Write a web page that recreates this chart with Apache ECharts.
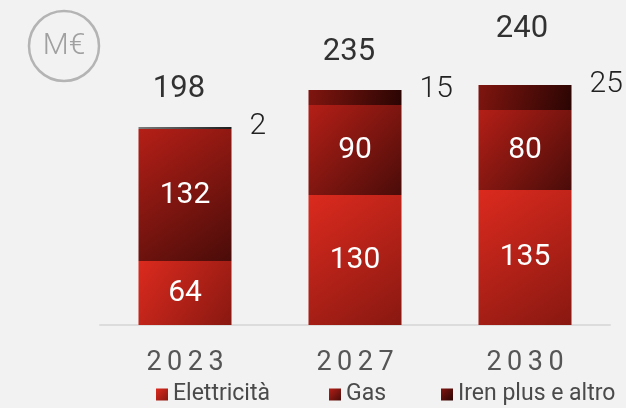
<!DOCTYPE html>
<html>
<head>
<meta charset="utf-8">
<script src="https://cdn.jsdelivr.net/npm/echarts@6/dist/echarts.min.js"></script>
<style>
  html, body { margin: 0; padding: 0; background: #f2f2f2; }
  #chart { width: 626px; height: 408px; }
</style>
</head>
<body>
<div id="chart"></div>
<script>
// dati (M€)
const years = ['2023', '2027', '2030']
const elettricita = [64, 130, 135]
const gas = [132, 90, 80]
const irenPlus = [2, 15, 25]
const totals = [198, 235, 240]

const grad = (c1, c2) => new echarts.graphic.LinearGradient(0, 0, 1, 1, [
    { offset: 0, color: c1 },
    { offset: 1, color: c2 }
])

const chart = echarts.init(document.getElementById('chart'))

const legendBase = {
    bottom: -3,
    icon: 'rect',
    itemWidth: 12,
    itemHeight: 12,
    itemGap: 9,
    textStyle: { fontFamily: 'Roboto', fontSize: 23, color: '#4a4a4a' }
}

chart.setOption({
    backgroundColor: '#f2f2f2',
    animation: false,
    textStyle: { fontFamily: 'Roboto' },
    grid: { left: 100, right: 16, top: 25, bottom: 83 },
    xAxis: {
        type: 'category',
        data: years,
        axisLine: { lineStyle: { color: '#dcdcdc', width: 2 } },
        axisTick: { show: false },
        axisLabel: {
            fontSize: 27,
            color: '#555',
            margin: 25,
            // spaziatura tra le cifre
            formatter: v => v.split('').join('\u2009')
        }
    },
    yAxis: { type: 'value', min: 0, max: 300, show: false },
    legend: [
        Object.assign({}, legendBase, { left: 151, data: ['Elettricità'] }),
        Object.assign({}, legendBase, { left: 324, data: ['Gas'] }),
        Object.assign({}, legendBase, { left: 436, data: ['Iren plus e altro'] })
    ],
    graphic: [
        {
            type: 'circle',
            shape: { cx: 64, cy: 46, r: 35 },
            style: { fill: 'none', stroke: '#b4b4b4', lineWidth: 2.5 }
        },
        {
            type: 'text',
            x: 64, y: 46,
            style: {
                text: 'M€', fill: '#a0a0a0', font: '300 30px Roboto',
                align: 'center', verticalAlign: 'middle'
            }
        }
    ],
    series: [
        {
            name: 'Elettricità',
            type: 'bar',
            stack: 'tot',
            barWidth: 93,
            data: elettricita,
            itemStyle: { color: grad('#dc2a1e', '#881811') },
            label: { show: true, position: 'inside', color: '#fff', fontSize: 30 }
        },
        {
            name: 'Gas',
            type: 'bar',
            stack: 'tot',
            data: gas,
            itemStyle: { color: grad('#b41f17', '#4a0c09') },
            label: { show: true, position: 'inside', color: '#fff', fontSize: 30 }
        },
        {
            name: 'Iren plus e altro',
            type: 'bar',
            stack: 'tot',
            data: irenPlus.map((v, i) => i === 0
                ? { value: v, itemStyle: { color: grad('#7a7a7a', '#1e1e1e') } }
                : v),
            itemStyle: { color: grad('#80150f', '#2a0503') },
            label: {
                show: true,
                position: ['100%', 0],
                align: 'left',
                verticalAlign: 'middle',
                offset: [18, -1],
                color: '#222',
                fontSize: 30,
                fontWeight: 300
            }
        },
        {
            name: 'Totale',
            type: 'scatter',
            data: totals.map((v, i) => i === 2
                ? { value: v, label: { offset: [-3, -18] } }
                : v),
            symbolSize: 0,
            silent: true,
            label: {
                show: true,
                position: 'top',
                distance: 22,
                offset: [-6, 0],
                color: '#000',
                fontSize: 31
            }
        }
    ]
})
</script>
</body>
</html>
